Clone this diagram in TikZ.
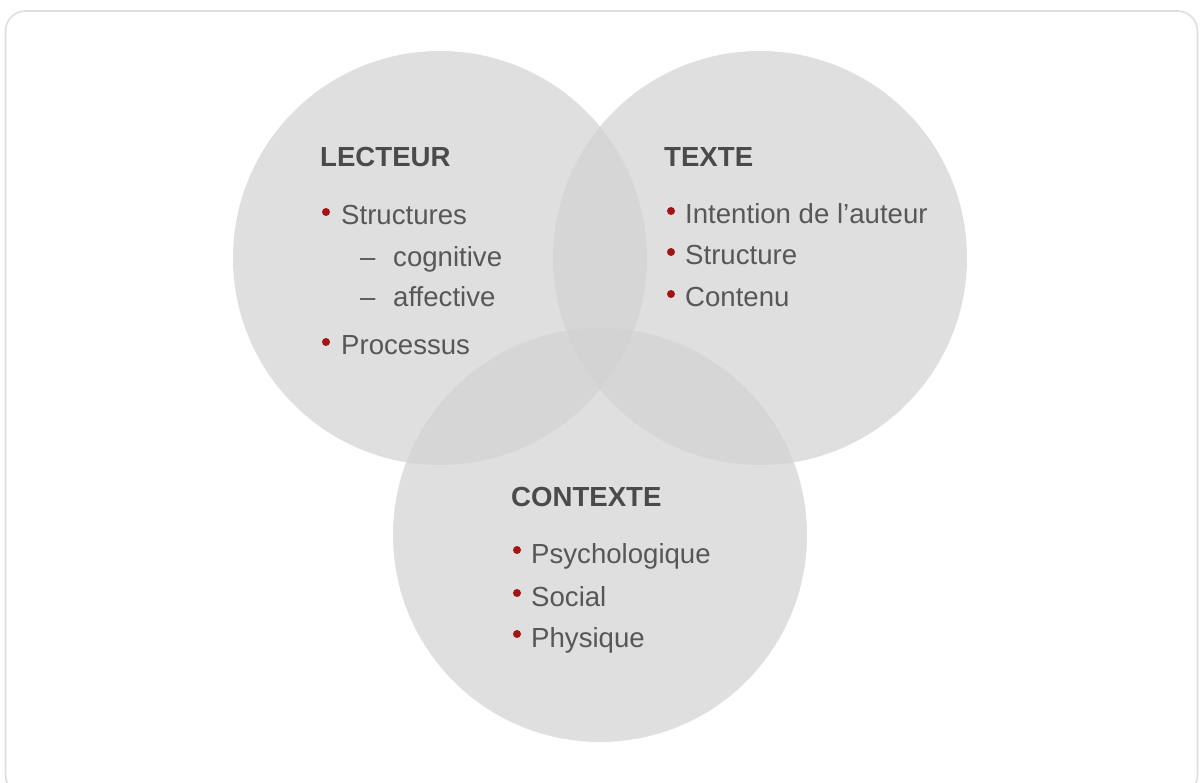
\documentclass[tikz,border=0pt]{standalone}
\usepackage{fontspec}
\setmainfont{Liberation Sans}
\definecolor{vennfill}{HTML}{D2D2D2}
\definecolor{txtgray}{HTML}{575757}
\definecolor{ttlgray}{HTML}{4A4A4A}
\definecolor{bulred}{HTML}{A31515}
\definecolor{framegray}{HTML}{DEDEDE}
\begin{document}
\begin{tikzpicture}[x=1pt,y=-1pt,
  venn/.style={circle, fill=vennfill, fill opacity=0.7, draw=none, minimum size=414pt, inner sep=0pt},
  ttl/.style={anchor=base west, inner sep=0pt, text=ttlgray, font=\fontsize{27.6}{33}\selectfont\bfseries},
  itm/.style={anchor=base west, inner sep=0pt, text=txtgray, font=\fontsize{27.6}{33}\selectfont},
  bul/.style={circle, fill=bulred, inner sep=0pt, minimum size=8pt}]
\useasboundingbox (0,0) rectangle (1200,783);
\draw[framegray, line width=1.6pt, rounded corners=20pt] (5.5,11) rectangle (1197.5,795);
% circles
\node[venn] (lect) at (440,258) {};
\node[venn] (texte) at (760,258) {};
\node[venn] (ctx) at (600,535) {};
% LECTEUR
\node[ttl] (tL) at (320,167) {LECTEUR};
\node[bul] (bL1) at (326,212) {};
\node[itm] (iL1) at (341,225) {Structures};
\node[itm] (dL1) at (360,267) {–};
\node[itm] (iL2) at (393,267) {cognitive};
\node[itm] (dL2) at (360,307) {–};
\node[itm] (iL3) at (393,307) {affective};
\node[bul] (bL2) at (326,342) {};
\node[itm] (iL4) at (341,355) {Processus};
% TEXTE
\node[ttl] (tT) at (664,167) {TEXTE};
\node[bul] (bT1) at (671,211) {};
\node[itm] (iT1) at (685,224) {Intention de l’auteur};
\node[bul] (bT2) at (671,252) {};
\node[itm] (iT2) at (685,265) {Structure};
\node[bul] (bT3) at (671,294) {};
\node[itm] (iT3) at (685,307) {Contenu};
% CONTEXTE
\node[ttl] (tC) at (511,507) {CONTEXTE};
\node[bul] (bC1) at (517,550) {};
\node[itm] (iC1) at (531,563) {Psychologique};
\node[bul] (bC2) at (517,593) {};
\node[itm] (iC2) at (531,606) {Social};
\node[bul] (bC3) at (517,634) {};
\node[itm] (iC3) at (531,647) {Physique};
\end{tikzpicture}
\end{document}
